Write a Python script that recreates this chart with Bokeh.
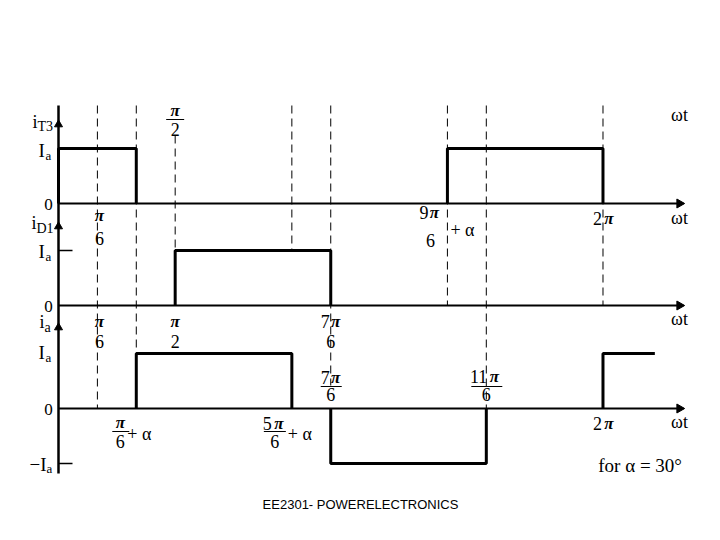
import math
from bokeh.plotting import figure
from bokeh.models import Range1d
from bokeh.embed import file_html
from bokeh.resources import INLINE
from bokeh.core.properties import value

# ---------------- data (angles in degrees, alpha = 30 deg; levels in units of Ia) -------------
alpha = 30
t3_angles = [[0, 0, 60, 60], [300, 300, 420, 420]]
t3_levels = [[0, 1, 1, 0], [0, 1, 1, 0]]
d1_angles = [[90, 90, 210, 210]]
d1_levels = [[0, 1, 1, 0]]
ia_angles = [[60, 60, 180, 180], [210, 210, 330, 330], [420, 420, 460]]
ia_levels = [[0, 1, 1, 0], [0, -1, -1, 0], [0, 1, 1]]
guide_angles = [30, 60, 90, 180, 210, 300, 330, 420]
# (panel, level) where each dashed guide ends; None = ends at a label
guide_ends = [(2, 0), (2, 1), (1, 1), (1, 1), None, (1, 0), (2, 0), (1, 0)]
axis_end_angle = 482

# ---------------- layout ----------------
X0, SX = 58.0, 1.2964      # reference pixel of 0 deg, px per degree
Y0, SY = 203.0, 55.0       # reference pixel of first baseline, px per Ia

def rx(px):
    return (px - X0) / SX

def ry(px):
    return (Y0 - px) / SY

base = [ry(203), ry(305), ry(408)]
SERIF = value("Liberation Serif")

p = figure(width=704, height=524, output_backend="svg", toolbar_location=None,
           x_range=Range1d(rx(0), rx(704)), y_range=Range1d(ry(524), ry(0)),
           min_border=0, outline_line_color=None, background_fill_color="white",
           border_fill_color="white")
p.axis.visible = False
p.grid.visible = False

# dashed guides
top = ry(105)
gx0, gy0, gx1, gy1 = [], [], [], []
for ang, end in zip(guide_angles, guide_ends):
    t = ry(135) if ang == 90 else top
    if end is None:
        b = ry(385)
    else:
        b = base[end[0]] + end[1]
    gx0.append(ang); gx1.append(ang); gy0.append(t); gy1.append(b)
p.segment(gx0, gy0, gx1, gy1, line_color="black", line_width=1, line_dash="8 5")

# axes
for b in base:
    p.segment([0], [b], [axis_end_angle], [b], line_color="black", line_width=2)
p.segment([0], [ry(105)], [0], [ry(473)], line_color="black", line_width=2.5)
p.scatter([axis_end_angle - 3] * 3, base, marker="triangle", size=9, angle=-math.pi / 2,
          fill_color="black", line_color="black")
p.scatter([0, 0, 0], [ry(124), ry(226), ry(327)], marker="triangle", size=8,
          fill_color="black", line_color="black")
# ticks at Ia / -Ia
p.segment([0, 0], [base[1] + 1, base[2] - 1], [rx(72), rx(72)], [base[1] + 1, base[2] - 1],
          line_color="black", line_width=1.5)

# waveforms
p.multi_line(t3_angles, [[base[0] + v for v in s] for s in t3_levels], line_color="black", line_width=3)
p.multi_line(d1_angles, [[base[1] + v for v in s] for s in d1_levels], line_color="black", line_width=3)
p.multi_line(ia_angles, [[base[2] + v for v in s] for s in ia_levels], line_color="black", line_width=3)

# ---------------- labels ----------------
def draw(xs, ys, ts, size, style, align, font):
    p.text(xs, ys, text=ts, text_font=font, text_font_size=size, text_font_style=style,
           text_align=align, text_baseline="middle", text_color="black")

def lab(items, size, style="normal", align="center", font=SERIF):
    """items given in reference pixels"""
    draw([rx(i[0]) for i in items], [ry(i[1]) for i in items], [i[2] for i in items],
         size, style, align, font)

def alab(items, size, style="normal", align="center", font=SERIF):
    """items given as (angle, pixel offset, y pixel, text)"""
    draw([i[0] + i[1] / SX for i in items], [ry(i[2]) for i in items], [i[3] for i in items],
         size, style, align, font)

PI = "\u03c0"
a30, a60, a90, a180, a210, a300, a330, a420 = guide_angles

# axis names and levels
lab([(32, 121, "i"), (31, 222, "i"), (39, 321, "i")], "18px", align="left")
lab([(37, 126, "T3"), (36, 228, "D1"), (44, 327, "a")], "14px", align="left")
lab([(38, 150, "I"), (38, 251, "I"), (38, 352, "I")], "19px", align="left")
lab([(46, 464, "\u2212I")], "19px", align="right")
lab([(45, 155, "a"), (45, 256, "a"), (45, 357, "a"), (46, 468, "a")], "13px", align="left")
lab([(48, 204, "0"), (48, 306, "0"), (48, 409, "0")], "17px")

# pi symbols (bold italic)
alab([(a90, 0, 110, PI), (a30, 2, 215, PI), (a30, 2, 321, PI), (a90, 0, 321, PI),
      (a60, -16, 422, PI), (a210, 5, 321, PI), (a210, 5, 377, PI), (a300, -13, 212, PI),
      (a330, 8, 376, PI), (a180, -13, 423, PI), (a420, 6, 218, PI), (a420, 6, 423, PI)],
     "17px", style="bold italic")
# digits
alab([(a90, 0, 129, "2"), (a30, 2, 238, "6"), (a30, 2, 341, "6"), (a90, 0, 341, "2"),
      (a210, 0, 341, "6"), (a210, 0, 394, "6"), (a300, -17, 240, "6"), (a330, 0, 394, "6"),
      (a60, -16, 441, "6"), (a180, -17, 441, "6")], "18px")
alab([(a210, -1, 321, "7"), (a210, -1, 377, "7"), (a300, -19, 212, "9"), (a330, 1, 376, "11"),
      (a180, -20, 423, "5"), (a420, -1, 218, "2"), (a420, -1, 423, "2")], "18px", align="right")
alab([(a300, 3, 229, "+ \u03b1"), (a60, -9, 433, "+ \u03b1"), (a180, -4, 433, "+ \u03b1")],
     "18px", align="left")
# fraction bars
bars = [(a90, -9, 9, 119), (a210, -10, 11, 386), (a330, -15, 16, 386),
        (a60, -24, -7, 431), (a180, -28, -6, 431)]
p.segment([b[0] + b[1] / SX for b in bars], [ry(b[3]) for b in bars],
          [b[0] + b[2] / SX for b in bars], [ry(b[3]) for b in bars],
          line_color="black", line_width=1)

lab([(679, 114, "\u03c9t"), (679, 217, "\u03c9t"), (679, 318, "\u03c9t"), (679, 421, "\u03c9t")], "18px")
lab([(642, 465, "for  \u03b1 = 30\u00b0")], "19px")
lab([(360, 504, "EE2301- POWERELECTRONICS")], "13px", font=value("Liberation Sans"))

open("out.html", "w").write(file_html(p, INLINE))
